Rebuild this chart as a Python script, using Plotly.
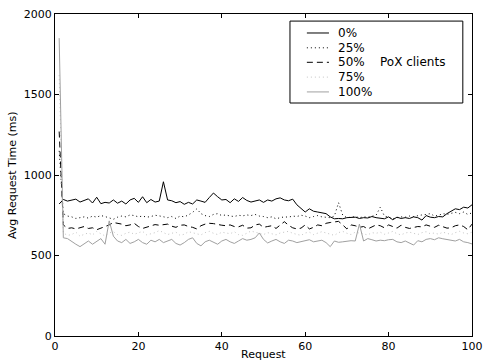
import plotly.graph_objects as go

requests = list(range(1, 101))

s0 = [820, 848, 838, 845, 850, 832, 840, 852, 826, 862,
      822, 830, 826, 845, 825, 838, 820, 845, 855, 830,
      865, 828, 848, 832, 838, 958, 845, 840, 828, 835,
      818, 830, 820, 845, 838, 830, 860, 888, 865, 845,
      848, 828, 852, 836, 860, 842, 832, 838, 845, 830,
      845, 838, 852, 858, 845, 840, 850, 815, 795, 770,
      790, 775, 770, 765, 760, 740, 728, 730, 728, 735,
      735, 738, 730, 735, 733, 742, 735, 730, 728, 740,
      722, 738, 730, 735, 730, 740, 735, 720, 748, 738,
      735, 742, 740, 760, 775, 790, 785, 800, 795, 815]

s25 = [1150, 760, 745, 740, 730, 735, 740, 732, 745, 738,
       748, 742, 735, 725, 738, 745, 740, 752, 748, 740,
       745, 738, 742, 750, 746, 740, 735, 742, 730, 745,
       740, 752, 768, 790, 760, 748, 742, 755, 760, 748,
       752, 745, 742, 750, 746, 752, 748, 755, 745, 742,
       735, 740, 728, 735, 740, 738, 745, 742, 750, 745,
       735, 742, 748, 740, 738, 735, 745, 828, 750, 735,
       738, 742, 735, 740, 738, 745, 750, 800, 745, 738,
       728, 735, 740, 738, 745, 742, 748, 752, 755, 760,
       745, 750, 760, 755, 762, 768, 760, 770, 755, 765]

s50 = [1270, 690, 668, 672, 665, 675, 680, 668, 672, 660,
       670, 678, 690, 705, 700, 695, 685, 690, 700, 680,
       668, 675, 685, 692, 688, 690, 695, 682, 675, 688,
       690, 680, 675, 665, 685, 695, 700, 698, 692, 688,
       685, 690, 680, 678, 688, 670, 672, 690, 695, 675,
       680, 685, 668, 690, 710, 688, 672, 665, 670, 690,
       665, 675, 690, 685, 700, 705, 710, 712, 690, 665,
       690, 685, 675, 680, 665, 678, 690, 685, 672, 690,
       680, 670, 688, 675, 668, 672, 680, 678, 690, 682,
       675, 688, 680, 670, 672, 685, 690, 680, 660, 695]

s75 = [1620, 640, 625, 630, 645, 620, 632, 640, 628, 650,
       635, 622, 640, 648, 630, 625, 638, 645, 632, 640,
       650, 628, 635, 642, 655, 640, 630, 638, 645, 625,
       632, 648, 640, 635, 628, 642, 650, 638, 630, 645,
       640, 635, 648, 630, 625, 640, 652, 645, 638, 630,
       642, 635, 628, 640, 645, 650, 638, 632, 625, 640,
       645, 630, 638, 648, 640, 632, 625, 642, 650, 638,
       630, 645, 640, 635, 628, 642, 638, 645, 632, 640,
       650, 635, 628, 640, 645, 638, 630, 642, 648, 635,
       640, 632, 645, 638, 630, 642, 650, 640, 635, 645]

s100 = [1850, 610, 605, 585, 570, 555, 575, 590, 570, 585,
        605, 570, 715, 620, 590, 580, 600, 575, 585, 600,
        580, 570, 595, 585, 600, 580, 590, 600, 575, 565,
        580, 600, 610, 575, 560, 585, 595, 580, 570, 590,
        600, 585, 575, 590, 605, 595, 600, 610, 640, 600,
        578, 590, 600, 585, 575, 595, 590, 580, 585, 592,
        598, 585, 590, 595, 580, 555, 590, 582, 585, 590,
        592, 590, 695, 590, 605, 598, 590, 595, 592, 598,
        600, 585, 580, 590, 575, 565, 592, 585, 600, 605,
        598, 610, 604, 600, 595, 590, 600, 585, 580, 572]

series_names = ["0%", "25%", "50%", "75%", "100%"]
series_values = [s0, s25, s50, s75, s100]
series_colors = ["#000000", "#000000", "#000000", "#c4c4c4", "#a0a0a0"]
series_dash = ["solid", "1px,3px", "6px,4px", "1px,3px", "solid"]

x_ticks = [0, 20, 40, 60, 80, 100]
y_ticks = [0, 500, 1000, 1500, 2000]

fig = go.Figure()
for name, vals, col, dash in zip(series_names, series_values, series_colors, series_dash):
    fig.add_trace(go.Scatter(x=requests, y=vals, mode="lines", name=name,
                             line=dict(color=col, width=1, dash=dash),
                             showlegend=False, hoverinfo="skip"))

font = dict(family="DejaVu Sans", size=11, color="black")

axis_common = dict(showgrid=False, zeroline=False, showline=True, linecolor="black",
                   linewidth=1, mirror="ticks", ticks="inside", ticklen=4,
                   tickcolor="black", tickfont=font, automargin=False,
                   ticklabeloverflow="allow")

fig.update_xaxes(range=[0, 100], tickvals=x_ticks, ticktext=[str(t) for t in x_ticks], **axis_common)
fig.update_yaxes(range=[0, 2000], tickvals=y_ticks, ticktext=[str(t) for t in y_ticks], **axis_common)

# Legend box (manual)
shapes = [dict(type="rect", xref="paper", yref="paper", x0=0.5635, x1=0.978, y0=0.7236, y1=0.978,
               line=dict(color="black", width=1), fillcolor="white", layer="above")]
row_y = [0.941, 0.895, 0.850, 0.804, 0.758]
annotations = []
for name, col, dash, yy in zip(series_names, series_colors, series_dash, row_y):
    shapes.append(dict(type="line", xref="paper", yref="paper", x0=0.604, x1=0.657, y0=yy, y1=yy,
                       line=dict(color=col, width=1, dash=dash), layer="above"))
    annotations.append(dict(xref="paper", yref="paper", x=0.674, y=yy, text=name, showarrow=False,
                            xanchor="left", yanchor="middle", font=dict(family="DejaVu Sans", size=12, color="black")))
annotations.append(dict(xref="paper", yref="paper", x=0.775, y=row_y[2], text="PoX clients", showarrow=False,
                        xanchor="left", yanchor="middle", font=dict(family="DejaVu Sans", size=12, color="black")))
annotations.append(dict(xref="paper", yref="paper", x=0.5, y=-0.056, text="Request", showarrow=False,
                        xanchor="center", yanchor="middle", font=font))
annotations.append(dict(xref="paper", yref="paper", x=-0.103, y=0.5, text="Avg Request Time (ms)", showarrow=False,
                        textangle=-90, xanchor="center", yanchor="middle", font=font))

fig.update_layout(width=484, height=362, margin=dict(l=55, r=12, t=14, b=26, autoexpand=False),
                  plot_bgcolor="white", paper_bgcolor="white", font=font,
                  shapes=shapes, annotations=annotations, hovermode=False)

fig.write_html("out.html", config={"displayModeBar": False, "staticPlot": True},
               post_script="document.body.style.margin='0';document.body.style.overflow='hidden';")
